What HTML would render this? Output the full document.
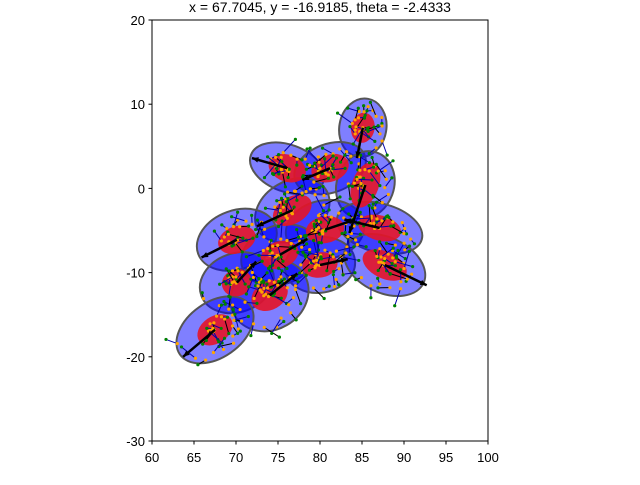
<!DOCTYPE html>
<html><head><meta charset="utf-8"><style>
body{margin:0;background:#fff;width:640px;height:480px;overflow:hidden}
svg{font-family:"Liberation Sans",sans-serif}
</style></head><body>
<svg id="chart" width="640" height="480">
<text x="320" y="12" text-anchor="middle" font-size="14">x = 67.7045, y = -16.9185, theta = -2.4333</text>
<g id="plot"></g>
<rect x="152" y="20" width="336" height="421" fill="none" stroke="#000" stroke-width="1"/>
<g id="axes"></g>
</svg>
<script>
const xTicks=[60,65,70,75,80,85,90,95,100];
const yTicks=[20,10,0,-10,-20,-30];
const cx=[85.1,76.1,81.2,85.4,76.7,70.1,80.6,87.1,75.2,80.0,87.7,70.1,74.0,67.5];
const cy=[7.2,2.4,2.4,0.4,-2.6,-6.1,-4.9,-4.7,-7.9,-9.1,-9.1,-11.2,-12.7,-16.8];
const blueW=[5.6,9.2,8.8,6.8,9.4,9.8,9.4,10.4,9.4,8.4,10.2,9.0,9.6,10.2];
const blueH=[7.0,5.6,5.8,8.2,7.0,7.0,7.0,5.8,7.0,6.6,6.6,7.0,8.2,6.6];
const redW=[2.8,4.6,4.6,3.2,5.0,4.6,4.6,5.2,4.6,4.2,5.6,3.6,4.6,4.6];
const redH=[3.6,3.2,3.2,5.6,3.2,3.2,3.2,3.0,3.2,3.0,3.2,3.2,3.4,3.2];
const ang=[10,20,-20,20,-30,-20,-10,15,-20,-10,25,-20,-30,-35];
const arrowDX=[-0.7,-4.2,-3.3,-1.9,-4.2,-4.2,3.6,-4.2,3.3,3.3,5.0,2.3,3.3,-3.8];
const arrowDY=[-3.6,1.2,-1.4,-5.7,-1.9,-2.1,1.2,1.0,1.9,0.7,-2.4,2.5,2.6,-3.2];
const X=v=>152+(v-60)*8.4, Y=v=>20+(20-v)*8.42;
const NS='http://www.w3.org/2000/svg';
const plot=document.getElementById('plot'), axes=document.getElementById('axes');
function mk(t,a,p){const e=document.createElementNS(NS,t);for(const k in a)e.setAttribute(k,a[k]);(p||plot).appendChild(e);return e;}
for(let i=0;i<cx.length;i++){
  const e=mk('ellipse',{cx:X(cx[i]),cy:Y(cy[i]),rx:blueW[i]*4.2,ry:blueH[i]*4.2,fill:'rgba(0,0,255,0.5)',stroke:'#555',"stroke-width":2,transform:`rotate(${ang[i]} ${X(cx[i])} ${Y(cy[i])})`});
  
  
}
for(let i=0;i<cx.length;i++){
  const e=mk('ellipse',{cx:X(cx[i]),cy:Y(cy[i]),rx:redW[i]*4.2,ry:redH[i]*4.2,fill:'rgba(230,20,40,0.9)',transform:`rotate(${ang[i]} ${X(cx[i])} ${Y(cy[i])})`});
  
  
}
for(let i=0;i<cx.length;i++){
  for(let k=0;k<22;k++){
    const a=k*2.4+i, r=((k*37+i*13)%100)/100;
    const bx=blueW[i]*4.2*r*Math.cos(a), by=blueH[i]*4.2*r*Math.sin(a);
    const t=ang[i]*Math.PI/180;
    const px=X(cx[i])+bx*Math.cos(t)-by*Math.sin(t), py=Y(cy[i])+bx*Math.sin(t)+by*Math.cos(t);
    const ex=px+Math.cos(a*1.7)*(6+k%5*3), ey=py+Math.sin(a*1.7)*(6+k%5*3);
    const l=mk('line',{x1:px,y1:py,x2:ex,y2:ey,stroke:k%3?'#0000aa':'#000',"stroke-width":1});
    
    
    const d=mk('circle',{cx:ex,cy:ey,r:1.6,fill:'green'});
    
    
    const o=mk('circle',{cx:px,cy:py,r:1.6,fill:'orange'});
    
    
  }
}
for(let i=0;i<cx.length;i++){
  const x1=X(cx[i]),y1=Y(cy[i]),x2=X(cx[i]+arrowDX[i]),y2=Y(cy[i]+arrowDY[i]);
  const l=mk('line',{x1,y1,x2,y2,stroke:'#000',"stroke-width":2.5});
  
  
  const a=Math.atan2(y2-y1,x2-x1);
  const h=mk('polygon',{points:`${x2},${y2} ${x2-7*Math.cos(a-0.4)},${y2-7*Math.sin(a-0.4)} ${x2-7*Math.cos(a+0.4)},${y2-7*Math.sin(a+0.4)}`,fill:'#000'});
  
  
}
xTicks.forEach(v=>{
  const l=mk('line',{x1:X(v),x2:X(v),y1:441,y2:444.5,stroke:'#000'},axes);
  
  
  const t=mk('text',{x:X(v),y:462,"text-anchor":'middle',"font-size":13},axes);t.textContent=v;
  
  
});
yTicks.forEach(v=>{
  const l=mk('line',{x1:148.5,x2:152,y1:Y(v),y2:Y(v),stroke:'#000'},axes);
  
  
  const t=mk('text',{x:145,y:Y(v)+5,"text-anchor":'end',"font-size":13},axes);t.textContent=v;
  
  
});
</script>
</body></html>
